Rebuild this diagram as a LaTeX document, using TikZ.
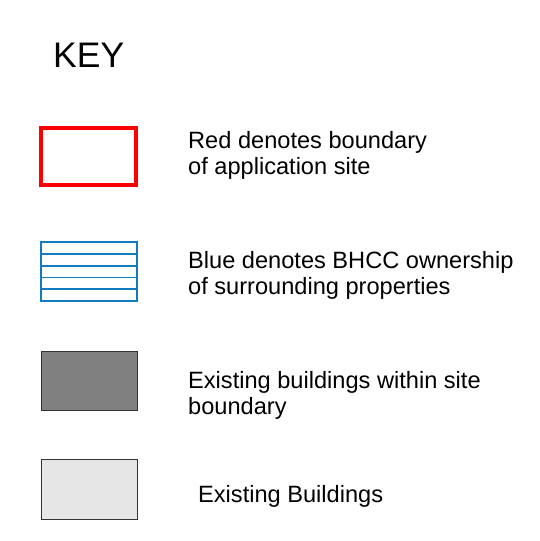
\documentclass[tikz,border=0pt]{standalone}
\usepackage{fontspec}
\setmainfont{Liberation Sans}
\definecolor{siteRed}{RGB}{255,0,0}
\definecolor{bhccBlue}{RGB}{20,122,190}
\definecolor{darkBldg}{RGB}{128,128,128}
\definecolor{lightBldg}{RGB}{230,230,230}
\begin{document}
\begin{tikzpicture}[x=1bp,y=-1bp,
    keytext/.style={anchor=base west,inner sep=0pt,align=left,font=\fontsize{23.6bp}{26bp}\selectfont},
    bldg/.style={draw=black!80,line width=1bp}]
    \useasboundingbox (0,0) rectangle (540,541);

    % title
    \node (key) [anchor=base west,inner sep=0pt,font=\fontsize{35.5bp}{40bp}\selectfont] at (53,68) {KEY};

    % application site
    \draw[siteRed,line width=4bp] (41,128) rectangle (136,185);
    \node (redtext) [keytext] at (188,175) {Red denotes boundary\\of application site};

    % BHCC ownership
    \draw[bhccBlue,line width=2bp] (41,242) rectangle (137,301);
    \foreach \y in {254,266,277.5,289}
        \draw[bhccBlue,line width=1.5bp] (41,\y) -- (137,\y);
    \node (bluetext) [keytext] at (188,294) {Blue denotes BHCC ownership\\of surrounding properties};

    % buildings within site
    \draw[bldg,fill=darkBldg] (41,351) rectangle (137,410);
    \node (darktext) [keytext] at (188,414) {Existing buildings within site\\boundary};

    % other buildings
    \draw[bldg,fill=lightBldg] (41,459) rectangle (137,519);
    \node (lighttext) [keytext] at (198,502) {Existing Buildings};

\end{tikzpicture}
\end{document}
